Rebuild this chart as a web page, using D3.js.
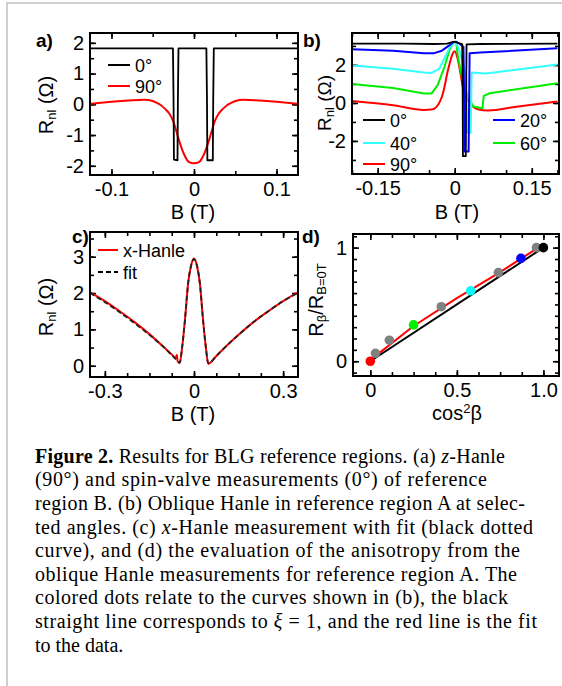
<!DOCTYPE html>
<html>
<head>
<meta charset="utf-8">
<script src="https://cdn.jsdelivr.net/npm/d3@7"></script>
<style>
  body { margin: 0; background: #fff; }
  svg { display: block; font-family: "Liberation Sans", Arial, sans-serif; }
</style>
</head>
<body>
<svg id="fig" width="562" height="686"></svg>
<script>
// ---------- data ----------
// a) spin valve (0 deg) and z-Hanle (90 deg), reference region B
const aSvB = [-0.125, -0.0255, -0.0248, -0.0243, -0.0200, -0.0195, -0.0188, 0.0150, 0.0157, 0.0162, 0.0228, 0.0233, 0.0240, 0.125];
const aSvR = [1.82, 1.82, 0.2, -1.8, -1.82, 0.2, 1.82, 1.82, 0.2, -1.82, -1.82, 0.2, 1.82, 1.82];
const aHzB = [-0.125, -0.1, -0.08, -0.06, -0.05, -0.045, -0.04, -0.035, -0.03, -0.025, -0.019, -0.0125, -0.0065, 0,
              0.0065, 0.0125, 0.019, 0.025, 0.03, 0.035, 0.04, 0.045, 0.05, 0.06, 0.08, 0.1, 0.125];
const aHzR = [0.02, 0.08, 0.12, 0.15, 0.11, 0.05, -0.03, -0.15, -0.3, -0.56, -1.1, -1.6, -1.87, -1.92,
              -1.87, -1.6, -1.1, -0.56, -0.3, -0.15, -0.03, 0.05, 0.11, 0.15, 0.12, 0.08, 0.02];
const aXTicks = [-0.1, 0, 0.1], aXMinor = [-0.1, -0.05, 0, 0.05, 0.1];
const aYTicks = [-2, -1, 0, 1, 2], aYMinor = [-2, -1.5, -1, -0.5, 0, 0.5, 1, 1.5, 2];

// b) oblique Hanle, reference region A
const b0B  = [-0.2, -0.1, -0.04, -0.015, -0.005, 0, 0.008, 0.0145, 0.0155, 0.016, 0.0215, 0.0222, 0.023, 0.05, 0.2];
const b0R  = [3.12, 3.12, 3.1, 3.12, 3.2, 3.22, 3.15, 3.1, 0.5, -2.8, -2.8, 0.5, 3.08, 3.1, 3.12];
const b20B = [-0.2, -0.12, -0.06, -0.04, -0.025, -0.012, -0.003, 0.003, 0.01, 0.017, 0.0185, 0.0195, 0.027, 0.028, 0.029, 0.05, 0.2];
const b20R = [2.83, 2.75, 2.62, 2.62, 2.75, 3.0, 3.2, 3.22, 3.1, 2.95, 0, -2.55, -2.55, 0, 2.62, 2.65, 2.88];
const b40B = [-0.2, -0.12, -0.06, -0.045, -0.03, -0.02, -0.01, -0.003, 0.003, 0.01, 0.017, 0.022, 0.0235, 0.0245, 0.031, 0.032, 0.033, 0.06, 0.2];
const b40R = [1.97, 1.8, 1.6, 1.58, 1.8, 2.35, 2.9, 3.15, 3.15, 2.7, 2.0, 1.4, 0, -1.55, -1.58, 0, 1.6, 1.55, 2.02];
const b60B = [-0.2, -0.12, -0.06, -0.045, -0.033, -0.02, -0.01, -0.003, 0.003, 0.0065, 0.016, 0.026, 0.036, 0.054, 0.0565, 0.068, 0.2];
const b60R = [1.0, 0.78, 0.5, 0.5, 0.95, 1.9, 2.8, 3.15, 3.15, 2.4, 1.1, 0.33, -0.19, -0.28, 0.37, 0.51, 1.04];
const b90B = [-0.2, -0.12, -0.06, -0.045, -0.036, -0.023, -0.013, -0.003, 0, 0.005, 0.01, 0.0175, 0.029, 0.045, 0.065, 0.12, 0.2];
const b90R = [0.1, -0.12, -0.37, -0.35, -0.22, 0.5, 1.74, 2.65, 2.72, 2.4, 1.74, 0.6, 0, -0.33, -0.4, -0.2, 0.07];
const bXTicks = [-0.15, 0, 0.15], bXMinor = [-0.2, -0.15, -0.1, -0.05, 0, 0.05, 0.1, 0.15, 0.2];
const bYTicks = [-2, 0, 2], bYMinor = [-3, -2, -1, 0, 1, 2, 3];

// c) x-Hanle with fit
const cB   = [-0.35, -0.3, -0.25, -0.2, -0.15, -0.1, -0.07, -0.062, -0.058, -0.055, -0.048, -0.04, -0.03, -0.02, -0.01, 0,
              0.01, 0.02, 0.03, 0.04, 0.048, 0.06, 0.07, 0.1, 0.15, 0.2, 0.25, 0.3, 0.35];
const cRed = [2.02, 1.78, 1.5, 1.2, 0.87, 0.5, 0.27, 0.2, 0.3, 0.12, 0.07, 0.5, 1.3, 2.25, 2.75, 2.95,
              2.75, 2.25, 1.3, 0.5, 0.05, 0.12, 0.22, 0.47, 0.85, 1.2, 1.5, 1.78, 2.02];
const cFit = [2.0, 1.75, 1.47, 1.17, 0.85, 0.5, 0.25, 0.19, 0.16, 0.13, 0.09, 0.5, 1.3, 2.25, 2.75, 2.93,
              2.75, 2.25, 1.3, 0.5, 0.07, 0.13, 0.22, 0.47, 0.85, 1.2, 1.5, 1.78, 2.0];
const cXTicks = [-0.3, 0, 0.3], cXMinor = [-0.3, -0.225, -0.15, -0.075, 0, 0.075, 0.15, 0.225, 0.3];
const cYTicks = [0, 1, 2, 3], cYMinor = [0, 0.5, 1, 1.5, 2, 2.5, 3, 3.5];

// d) anisotropy evaluation
const dCos   = [0, 0.03, 0.11, 0.25, 0.41, 0.58, 0.74, 0.87, 0.96, 1.0];
const dRatio = [0, 0.07, 0.185, 0.32, 0.48, 0.62, 0.78, 0.905, 1.0, 1.0];
const dColor = ["#ff0000", "#808080", "#808080", "#00ee00", "#808080", "#00ffff", "#808080", "#0000ff", "#808080", "#000000"];
const dFitX  = [0, 0.25, 0.5, 0.75, 0.97];
const dFitY  = [0.01, 0.31, 0.555, 0.785, 1.0];
const dIsoX  = [0, 1];
const dIsoY  = [0, 1];
const dXTicks = [0, 0.5, 1], dXLabels = ["0", "0.5", "1.0"];
const dXMinor = [0, 0.125, 0.25, 0.375, 0.5, 0.625, 0.75, 0.875, 1];
const dYTicks = [0, 1], dYMinor = [-0.1, 0, 0.1, 0.2, 0.3, 0.4, 0.5, 0.6, 0.7, 0.8, 0.9, 1, 1.1];

const captionLines = [
  [["b", "Figure 2."], ["", " Results for BLG reference regions. (a) "], ["i", "z"], ["", "-Hanle"]],
  [["", "(90°) and spin-valve measurements (0°) of reference"]],
  [["", "region B. (b) Oblique Hanle in reference region A at selec-"]],
  [["", "ted angles. (c) "], ["i", "x"], ["", "-Hanle measurement with fit (black dotted"]],
  [["", "curve), and (d) the evaluation of the anisotropy from the"]],
  [["", "oblique Hanle measurements for reference region A. The"]],
  [["", "colored dots relate to the curves shown in (b), the black"]],
  [["", "straight line corresponds to "], ["i", "ξ"], ["", " = 1, and the red line is the fit"]],
  [["", "to the data."]]
];
const captionEnds = [505, 487, 525, 533, 520, 517, 508, 537, null];

// ---------- drawing ----------
const svg = d3.select("#fig");

// page border
svg.append("path").attr("d", "M7,686V3H562")
  .attr("fill", "none").attr("stroke", "#cfcfcf").attr("stroke-width", 2);

let clipId = 0;
function makePanel(o) {
  const x = d3.scaleLinear().domain(o.xDom).range([o.left, o.right]);
  const y = d3.scaleLinear().domain(o.yDom).range([o.bottom, o.top]);
  const g = svg.append("g");

  const axis = (gen, scale, vals, size, fmt, tr, pad) => {
    const a = g.append("g").attr("transform", tr)
      .call(gen(scale).tickValues(vals).tickSize(size).tickPadding(pad || 3).tickFormat(fmt));
    a.select(".domain").remove();
    a.attr("font-family", null).attr("font-size", null);
    a.selectAll("line").attr("stroke", "#000").attr("stroke-width", 1.6);
    a.selectAll("text").attr("fill", "#000").style("font-size", "20px");
    return a;
  };
  const none = () => "";
  // minor ticks on all four sides
  axis(d3.axisBottom, x, o.xMinor, -4, none, `translate(0,${o.bottom})`);
  axis(d3.axisTop, x, o.xMinor, -4, none, `translate(0,${o.top})`);
  axis(d3.axisLeft, y, o.yMinor, -4, none, `translate(${o.left},0)`);
  axis(d3.axisRight, y, o.yMinor, -4, none, `translate(${o.right},0)`);
  // major ticks with labels
  axis(d3.axisBottom, x, o.xTicks, -6, (d, i) => o.xLabels ? o.xLabels[i] : String(d), `translate(0,${o.bottom})`, 7);
  axis(d3.axisTop, x, o.xTicks, -6, none, `translate(0,${o.top})`);
  axis(d3.axisLeft, y, o.yTicks, -6, d => String(d), `translate(${o.left},0)`, 6);
  axis(d3.axisRight, y, o.yTicks, -6, none, `translate(${o.right},0)`);

  const id = "clip" + (clipId++);
  svg.append("clipPath").attr("id", id).append("rect")
    .attr("x", o.left).attr("y", o.top).attr("width", o.right - o.left).attr("height", o.bottom - o.top);
  const plot = svg.append("g").attr("clip-path", `url(#${id})`);

  // frame drawn on top
  svg.append("rect")
    .attr("x", o.left).attr("y", o.top).attr("width", o.right - o.left).attr("height", o.bottom - o.top)
    .attr("fill", "none").attr("stroke", "#000").attr("stroke-width", 2);

  return {x, y, plot, g};
}

function trace(p, xs, ys, color, width, curve, dash) {
  const pts = xs.map((v, i) => [v, ys[i]]);
  const gen = d3.line().x(d => p.x(d[0])).y(d => p.y(d[1])).curve(curve || d3.curveLinear);
  const path = p.plot.append("path").datum(pts).attr("d", gen)
    .attr("fill", "none").attr("stroke", color).attr("stroke-width", width)
    .attr("stroke-linejoin", "round");
  if (dash) path.attr("stroke-dasharray", dash);
  return path;
}

function legendEntry(x1, x2, yy, color, label, dash) {
  const l = svg.append("line").attr("x1", x1).attr("x2", x2).attr("y1", yy).attr("y2", yy)
    .attr("stroke", color).attr("stroke-width", 2);
  if (dash) l.attr("stroke-dasharray", dash);
  svg.append("text").attr("x", x2 + 5).attr("y", yy + 6.5).style("font-size", "18px").text(label);
}

function panelLabel(x, y, t) {
  svg.append("text").attr("x", x).attr("y", y).style("font-size", "19px").style("font-weight", "bold").text(t);
}

function xTitle(cx, by, parts) {
  const t = svg.append("text").attr("x", cx).attr("y", by).attr("text-anchor", "middle").style("font-size", "20px");
  parts.forEach(([k, s]) => {
    const ts = t.append("tspan").text(s);
    if (k === "sup") ts.attr("baseline-shift", "super").style("font-size", "13px");
  });
}

function yTitle(bx, cy, parts, size) {
  const t = svg.append("text").attr("transform", `translate(${bx},${cy}) rotate(-90)`)
    .attr("text-anchor", "middle").style("font-size", (size || 20) + "px");
  parts.forEach(([k, s]) => {
    const ts = t.append("tspan").text(s);
    if (k === "sub") ts.attr("baseline-shift", "-25%").style("font-size", "13px");
  });
}

// ----- panel a -----
const pa = makePanel({left: 90, right: 298, top: 33, bottom: 175,
  xDom: [-0.126, 0.126], yDom: [-2.3, 2.32],
  xTicks: aXTicks, xMinor: aXMinor, yTicks: aYTicks, yMinor: aYMinor});
trace(pa, aHzB, aHzR, "#ff0000", 2, d3.curveMonotoneX);
trace(pa, aSvB, aSvR, "#000000", 1.8);
legendEntry(108, 130, 65, "#000", "0°");
legendEntry(108, 130, 86, "#ff0000", "90°");
panelLabel(36, 47, "a)");
yTitle(53, 105, [["", "R"], ["sub", "nl"], ["", " (Ω)"]]);
xTitle(193, 219, [["", "B (T)"]]);

// ----- panel b -----
const pb = makePanel({left: 352, right: 559, top: 33, bottom: 174,
  xDom: [-0.2, 0.203], yDom: [-3.74, 3.68],
  xTicks: bXTicks, xMinor: bXMinor, yTicks: bYTicks, yMinor: bYMinor});
trace(pb, b90B, b90R, "#ff0000", 2, d3.curveMonotoneX);
trace(pb, b60B, b60R, "#00ee00", 2);
trace(pb, b40B, b40R, "#33ffff", 2);
trace(pb, b20B, b20R, "#0000ff", 2);
trace(pb, b0B, b0R, "#000000", 1.8);
legendEntry(363, 385, 120, "#000", "0°");
legendEntry(363, 385, 143, "#33ffff", "40°");
legendEntry(363, 385, 164, "#ff0000", "90°");
legendEntry(493, 515, 120, "#0000ff", "20°");
legendEntry(493, 515, 143, "#00ee00", "60°");
panelLabel(303, 47, "b)");
yTitle(331, 103, [["", "R"], ["sub", "nl"], ["", " (Ω)"]], 19);
xTitle(457, 219, [["", "B (T)"]]);

// ----- panel c -----
const pc = makePanel({left: 90, right: 298, top: 232, bottom: 377,
  xDom: [-0.35, 0.35], yDom: [-0.31, 3.68],
  xTicks: cXTicks, xMinor: cXMinor, yTicks: cYTicks, yMinor: cYMinor});
trace(pc, cB, cRed, "#ff0000", 2, d3.curveMonotoneX);
trace(pc, cB, cFit, "#222", 1.8, d3.curveMonotoneX, "5,3");
legendEntry(98, 118, 250, "#ff0000", "x-Hanle");
legendEntry(98, 118, 272, "#000", "fit", "5,3");
panelLabel(72, 243, "c)");
yTitle(53, 307, [["", "R"], ["sub", "nl"], ["", " (Ω)"]]);
xTitle(193, 421, [["", "B (T)"]]);

// ----- panel d -----
const pd = makePanel({left: 353, right: 559, top: 234, bottom: 376,
  xDom: [-0.1, 1.09], yDom: [-0.13, 1.12],
  xTicks: dXTicks, xLabels: dXLabels, xMinor: dXMinor, yTicks: dYTicks, yMinor: dYMinor});
trace(pd, dFitX, dFitY, "#ff0000", 2);
trace(pd, dIsoX, dIsoY, "#000000", 2);
pd.plot.selectAll("circle").data(dCos).join("circle")
  .attr("cx", d => pd.x(d)).attr("cy", (d, i) => pd.y(dRatio[i])).attr("r", 4.8)
  .attr("fill", (d, i) => dColor[i]);
panelLabel(302, 243, "d)");
yTitle(323, 300, [["", "R"], ["sub", "β"], ["", "/R"], ["sub", "B=0T"]]);
xTitle(457, 420, [["", "cos"], ["sup", "2"], ["", "β"]]);

// ----- caption -----
const cap = svg.append("g").style("font-family", "'Liberation Serif', 'Times New Roman', serif").style("font-size", "20px");
captionLines.forEach((line, i) => {
  const t = cap.append("text").attr("x", 35).attr("y", 462.7 + i * 23.6);
  if (captionEnds[i]) t.attr("textLength", captionEnds[i] - 35).attr("lengthAdjust", "spacing");
  line.forEach(([k, s]) => {
    const ts = t.append("tspan").text(s);
    if (k === "b") ts.style("font-weight", "bold");
    if (k === "i") ts.style("font-style", "italic");
  });
});
</script>
</body>
</html>
